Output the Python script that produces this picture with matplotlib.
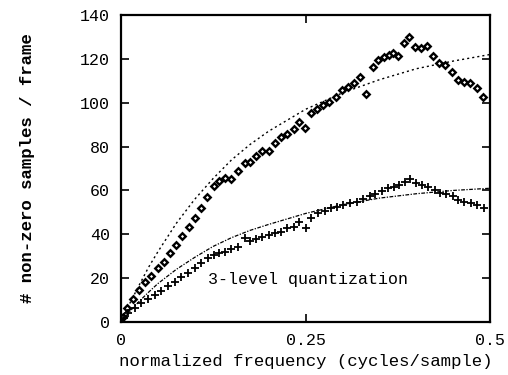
import matplotlib
matplotlib.use("Agg")
import matplotlib.pyplot as plt

# diamonds: unquantized (or higher-level) non-zero samples per frame
dia_x = [0.003, 0.008, 0.016, 0.025, 0.033, 0.041, 0.050, 0.058, 0.067, 0.075,
         0.083, 0.092, 0.100, 0.108, 0.117, 0.1256, 0.133, 0.141, 0.1495, 0.1585,
         0.1676, 0.175, 0.183, 0.191, 0.200, 0.208, 0.217, 0.225, 0.234, 0.2416,
         0.2497, 0.258, 0.265, 0.274, 0.282, 0.291, 0.299, 0.307, 0.315, 0.324,
         0.3315, 0.341, 0.3487, 0.3568, 0.3636, 0.369, 0.375, 0.3826, 0.3907, 0.398,
         0.4065, 0.414, 0.423, 0.431, 0.439, 0.448, 0.456, 0.464, 0.473, 0.482, 0.4896]
dia_y = [2.5, 6.5, 10.3, 14.6, 18.4, 21.0, 24.5, 27.5, 31.3, 35.0,
         39.0, 43.5, 47.5, 52.0, 57.0, 62.0, 64.4, 65.5, 65.1, 69.0,
         72.4, 73.1, 75.7, 78.1, 78.1, 81.5, 84.2, 85.7, 88.0, 91.3,
         88.3, 95.2, 97.0, 98.9, 100.5, 102.7, 105.8, 107.3, 108.8, 111.6,
         104.0, 116.4, 119.5, 120.7, 121.7, 122.5, 121.3, 127.4, 129.8, 125.5,
         124.8, 125.9, 121.3, 118.2, 117.2, 114.1, 110.3, 109.6, 109.1, 106.6, 102.7]

# crosses: 3-level quantization
crs_x = [0.004, 0.0095, 0.0186, 0.0275, 0.0366, 0.0457, 0.0546, 0.0637, 0.0727, 0.0817,
         0.0908, 0.0998, 0.109, 0.118, 0.1256, 0.133, 0.141, 0.1495, 0.1585, 0.1676,
         0.175, 0.183, 0.191, 0.200, 0.208, 0.217, 0.225, 0.234, 0.2416, 0.2507,
         0.258, 0.267, 0.276, 0.284, 0.292, 0.301, 0.310, 0.319, 0.328, 0.337,
         0.344, 0.353, 0.362, 0.370, 0.377, 0.3846, 0.3916, 0.399, 0.4074, 0.4155,
         0.4246, 0.432, 0.440, 0.449, 0.457, 0.465, 0.474, 0.482, 0.491]
crs_y = [2.0, 4.0, 6.2, 8.5, 10.3, 12.3, 14.3, 16.4, 18.4, 20.7,
         22.5, 24.5, 26.8, 29.0, 30.5, 31.3, 32.0, 33.1, 34.3, 38.2,
         37.1, 37.7, 38.6, 39.7, 40.4, 41.2, 42.7, 43.5, 45.7, 42.7,
         47.5, 49.9, 50.8, 51.8, 52.6, 53.4, 54.4, 54.9, 55.9, 57.5,
         58.4, 59.9, 61.0, 61.7, 62.5, 64.0, 65.0, 63.5, 62.5, 61.7,
         60.2, 59.0, 58.4, 57.5, 55.6, 54.9, 54.1, 53.4, 51.8]

# model curves (read at several frequencies)
curve_x = [0.0, 0.0125, 0.025, 0.0375, 0.05, 0.075, 0.1, 0.125, 0.15, 0.175, 0.2,
           0.25, 0.3, 0.35, 0.4, 0.45, 0.5]
upper_y = [0.0, 8.8, 17.0, 25.0, 32.0, 45.0, 56.0, 65.5, 74.0, 81.0, 87.0,
           97.0, 104.5, 110.5, 115.5, 119.0, 122.0]
lower_y = [0.0, 5.0, 9.5, 13.6, 17.5, 24.0, 29.5, 34.5, 38.5, 41.8, 44.5,
           49.5, 53.5, 56.5, 58.5, 60.0, 61.0]

xticks = [0, 0.25, 0.5]
xticklabels = ["0", "0.25", "0.5"]
yticks = [0, 20, 40, 60, 80, 100, 120, 140]

plt.rcParams['font.family'] = ['Liberation Mono', 'DejaVu Sans Mono']

fig = plt.figure(figsize=(5.08, 3.75), dpi=100)
ax = fig.add_axes([0.238, 0.1413, 0.727, 0.8187])

ax.plot(curve_x, upper_y, color='black', lw=1.0, linestyle=(0, (1.5, 2.2)))
ax.plot(curve_x, lower_y, color='black', lw=0.9, linestyle=(0, (3, 1.2, 1, 1.2)))

ax.plot(dia_x, dia_y, linestyle='none', marker='D', markersize=3.3,
        markerfacecolor='white', markeredgecolor='black', markeredgewidth=1.7)
ax.plot(crs_x, crs_y, linestyle='none', marker='+', markersize=6,
        color='black', markeredgewidth=1.3)

ax.text(0.118, 19.5, "3-level quantization", fontsize=12, va='center', ha='left')

ax.set_xlim(0, 0.5)
ax.set_ylim(0, 140)
ax.set_xticks(xticks)
ax.set_xticklabels(xticklabels)
ax.set_yticks(yticks)
ax.tick_params(axis='both', direction='in', length=6, width=1.2, labelsize=12)
ax.tick_params(axis='y', right=True, pad=8)
ax.tick_params(axis='x', pad=8)
for s in ax.spines.values():
    s.set_linewidth(1.6)

# top tick at 0.25 only
sec = ax.secondary_xaxis('top')
sec.set_xticks([0.25])
sec.set_xticklabels([])
sec.tick_params(direction='in', length=6, width=1.2)
sec.spines['top'].set_visible(False)

ax.set_xlabel("normalized frequency (cycles/sample)", fontsize=12.5, labelpad=4)
ax.set_ylabel("# non-zero samples / frame", fontsize=12.5, fontweight='bold', labelpad=32)

fig.savefig("out.png", dpi=100)
